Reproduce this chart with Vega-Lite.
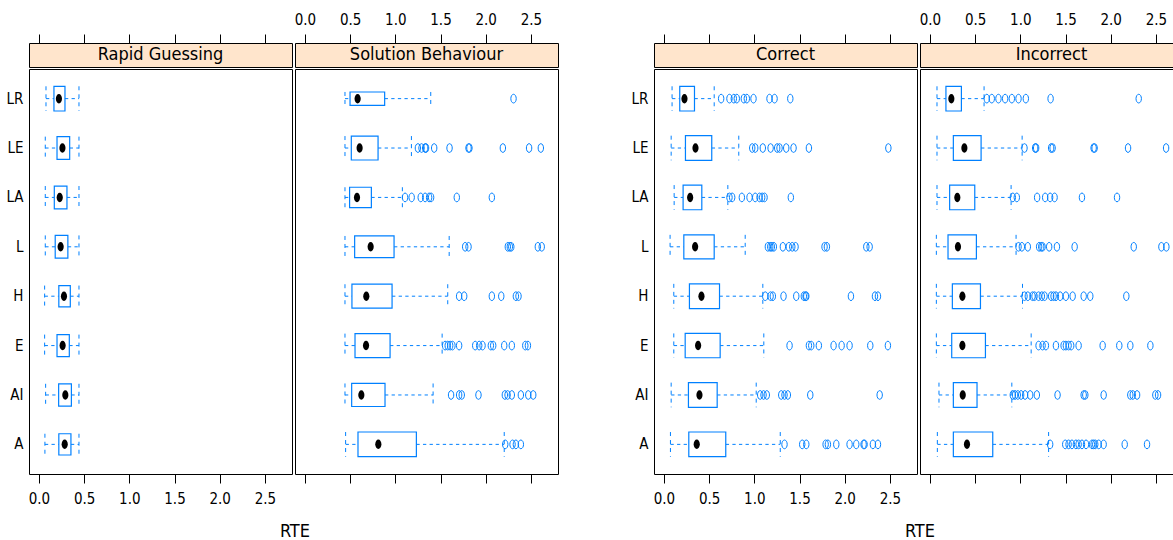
{
"$schema": "https://vega.github.io/schema/vega-lite/v6.json",
"background": "white",
"padding": {"left": 5, "top": 11, "right": 0, "bottom": 0},
"config": {"font": "'Liberation Sans Narrow', 'DejaVu Sans Condensed', 'Liberation Sans', sans-serif", "view": {"stroke": "black", "strokeWidth": 1}, "axis": {"grid": false, "domain": false}, "title": {"fontWeight": "normal", "color": "black"}},
"datasets": {
"boxes": [
{"panel":"RG","item":"LR","lo":0.078,"q1":0.166,"med":0.221,"q3":0.288,"hi":0.443,"n":100},
{"panel":"RG","item":"LE","lo":0.07,"q1":0.2,"med":0.26,"q3":0.34,"hi":0.443,"n":85},
{"panel":"RG","item":"LA","lo":0.07,"q1":0.17,"med":0.23,"q3":0.31,"hi":0.443,"n":85},
{"panel":"RG","item":"L","lo":0.07,"q1":0.18,"med":0.24,"q3":0.32,"hi":0.443,"n":85},
{"panel":"RG","item":"H","lo":0.063,"q1":0.22,"med":0.277,"q3":0.347,"hi":0.443,"n":74},
{"panel":"RG","item":"E","lo":0.063,"q1":0.2,"med":0.262,"q3":0.336,"hi":0.443,"n":79},
{"panel":"RG","item":"AI","lo":0.074,"q1":0.218,"med":0.292,"q3":0.359,"hi":0.443,"n":82},
{"panel":"RG","item":"A","lo":0.066,"q1":0.22,"med":0.285,"q3":0.354,"hi":0.443,"n":74},
{"panel":"SB","item":"LR","lo":0.443,"q1":0.499,"med":0.583,"q3":0.882,"hi":1.392,"n":29},
{"panel":"SB","item":"LE","lo":0.443,"q1":0.513,"med":0.605,"q3":0.809,"hi":1.178,"n":94},
{"panel":"SB","item":"LA","lo":0.443,"q1":0.494,"med":0.576,"q3":0.735,"hi":1.078,"n":68},
{"panel":"SB","item":"L","lo":0.443,"q1":0.55,"med":0.727,"q3":0.986,"hi":1.596,"n":77},
{"panel":"SB","item":"H","lo":0.443,"q1":0.52,"med":0.679,"q3":0.964,"hi":1.58,"n":94},
{"panel":"SB","item":"E","lo":0.443,"q1":0.554,"med":0.676,"q3":0.942,"hi":1.518,"n":94},
{"panel":"SB","item":"AI","lo":0.443,"q1":0.517,"med":0.624,"q3":0.886,"hi":1.418,"n":87},
{"panel":"SB","item":"A","lo":0.45,"q1":0.587,"med":0.812,"q3":1.233,"hi":2.205,"n":100},
{"panel":"C","item":"LR","lo":0.09,"q1":0.175,"med":0.227,"q3":0.338,"hi":0.556,"n":100},
{"panel":"C","item":"LE","lo":0.08,"q1":0.238,"med":0.349,"q3":0.529,"hi":0.828,"n":100},
{"panel":"C","item":"LA","lo":0.113,"q1":0.212,"med":0.29,"q3":0.419,"hi":0.707,"n":100},
{"panel":"C","item":"L","lo":0.068,"q1":0.22,"med":0.345,"q3":0.556,"hi":0.899,"n":94},
{"panel":"C","item":"H","lo":0.109,"q1":0.282,"med":0.415,"q3":0.615,"hi":1.094,"n":100},
{"panel":"C","item":"E","lo":0.109,"q1":0.235,"med":0.378,"q3":0.622,"hi":1.105,"n":97},
{"panel":"C","item":"AI","lo":0.08,"q1":0.271,"med":0.393,"q3":0.589,"hi":1.021,"n":100},
{"panel":"C","item":"A","lo":0.072,"q1":0.275,"med":0.363,"q3":0.684,"hi":1.287,"n":100},
{"panel":"I","item":"LR","lo":0.078,"q1":0.177,"med":0.237,"q3":0.348,"hi":0.599,"n":100},
{"panel":"I","item":"LE","lo":0.078,"q1":0.259,"med":0.381,"q3":0.566,"hi":1.02,"n":100},
{"panel":"I","item":"LA","lo":0.078,"q1":0.218,"med":0.303,"q3":0.496,"hi":0.898,"n":100},
{"panel":"I","item":"L","lo":0.071,"q1":0.2,"med":0.31,"q3":0.514,"hi":0.953,"n":94},
{"panel":"I","item":"H","lo":0.071,"q1":0.248,"med":0.359,"q3":0.559,"hi":1.024,"n":100},
{"panel":"I","item":"E","lo":0.071,"q1":0.241,"med":0.359,"q3":0.614,"hi":1.12,"n":97},
{"panel":"I","item":"AI","lo":0.1,"q1":0.259,"med":0.363,"q3":0.521,"hi":0.906,"n":100},
{"panel":"I","item":"A","lo":0.082,"q1":0.259,"med":0.41,"q3":0.695,"hi":1.313,"n":100}
],
"outliers": [
{"panel":"SB","item":"LR","v":2.308},
{"panel":"SB","item":"LE","v":1.25},{"panel":"SB","item":"LE","v":1.29},{"panel":"SB","item":"LE","v":1.33},{"panel":"SB","item":"LE","v":1.34},{"panel":"SB","item":"LE","v":1.43},{"panel":"SB","item":"LE","v":1.6},{"panel":"SB","item":"LE","v":1.81},{"panel":"SB","item":"LE","v":1.82},{"panel":"SB","item":"LE","v":2.19},{"panel":"SB","item":"LE","v":2.48},{"panel":"SB","item":"LE","v":2.61},
{"panel":"SB","item":"LA","v":1.108},{"panel":"SB","item":"LA","v":1.181},{"panel":"SB","item":"LA","v":1.281},{"panel":"SB","item":"LA","v":1.33},{"panel":"SB","item":"LA","v":1.374},{"panel":"SB","item":"LA","v":1.396},{"panel":"SB","item":"LA","v":1.68},{"panel":"SB","item":"LA","v":2.068},
{"panel":"SB","item":"L","v":1.773},{"panel":"SB","item":"L","v":1.81},{"panel":"SB","item":"L","v":2.245},{"panel":"SB","item":"L","v":2.267},{"panel":"SB","item":"L","v":2.283},{"panel":"SB","item":"L","v":2.577},{"panel":"SB","item":"L","v":2.62},
{"panel":"SB","item":"H","v":1.706},{"panel":"SB","item":"H","v":1.762},{"panel":"SB","item":"H","v":2.068},{"panel":"SB","item":"H","v":2.172},{"panel":"SB","item":"H","v":2.334},{"panel":"SB","item":"H","v":2.363},
{"panel":"SB","item":"E","v":1.551},{"panel":"SB","item":"E","v":1.58},{"panel":"SB","item":"E","v":1.607},{"panel":"SB","item":"E","v":1.632},{"panel":"SB","item":"E","v":1.706},{"panel":"SB","item":"E","v":1.884},{"panel":"SB","item":"E","v":1.928},{"panel":"SB","item":"E","v":1.965},{"panel":"SB","item":"E","v":2.057},{"panel":"SB","item":"E","v":2.083},{"panel":"SB","item":"E","v":2.205},{"panel":"SB","item":"E","v":2.289},{"panel":"SB","item":"E","v":2.438},{"panel":"SB","item":"E","v":2.467},
{"panel":"SB","item":"AI","v":1.617},{"panel":"SB","item":"AI","v":1.706},{"panel":"SB","item":"AI","v":1.735},{"panel":"SB","item":"AI","v":1.92},{"panel":"SB","item":"AI","v":2.212},{"panel":"SB","item":"AI","v":2.242},{"panel":"SB","item":"AI","v":2.289},{"panel":"SB","item":"AI","v":2.389},{"panel":"SB","item":"AI","v":2.471},{"panel":"SB","item":"AI","v":2.526},
{"panel":"SB","item":"A","v":2.216},{"panel":"SB","item":"A","v":2.297},{"panel":"SB","item":"A","v":2.334},{"panel":"SB","item":"A","v":2.389},
{"panel":"C","item":"LR","v":0.633},{"panel":"C","item":"LR","v":0.725},{"panel":"C","item":"LR","v":0.773},{"panel":"C","item":"LR","v":0.806},{"panel":"C","item":"LR","v":0.884},{"panel":"C","item":"LR","v":0.917},{"panel":"C","item":"LR","v":0.991},{"panel":"C","item":"LR","v":1.168},{"panel":"C","item":"LR","v":1.224},{"panel":"C","item":"LR","v":1.398},
{"panel":"C","item":"LE","v":0.977},{"panel":"C","item":"LE","v":1.01},{"panel":"C","item":"LE","v":1.094},{"panel":"C","item":"LE","v":1.18},{"panel":"C","item":"LE","v":1.253},{"panel":"C","item":"LE","v":1.279},{"panel":"C","item":"LE","v":1.353},{"panel":"C","item":"LE","v":1.434},{"panel":"C","item":"LE","v":1.604},{"panel":"C","item":"LE","v":2.483},
{"panel":"C","item":"LA","v":0.725},{"panel":"C","item":"LA","v":0.755},{"panel":"C","item":"LA","v":0.862},{"panel":"C","item":"LA","v":0.947},{"panel":"C","item":"LA","v":1.01},{"panel":"C","item":"LA","v":1.058},{"panel":"C","item":"LA","v":1.087},{"panel":"C","item":"LA","v":1.113},{"panel":"C","item":"LA","v":1.404},
{"panel":"C","item":"L","v":1.15},{"panel":"C","item":"L","v":1.176},{"panel":"C","item":"L","v":1.194},{"panel":"C","item":"L","v":1.216},{"panel":"C","item":"L","v":1.316},{"panel":"C","item":"L","v":1.382},{"panel":"C","item":"L","v":1.42},{"panel":"C","item":"L","v":1.456},{"panel":"C","item":"L","v":1.777},{"panel":"C","item":"L","v":1.803},{"panel":"C","item":"L","v":2.239},{"panel":"C","item":"L","v":2.276},
{"panel":"C","item":"H","v":1.121},{"panel":"C","item":"H","v":1.18},{"panel":"C","item":"H","v":1.205},{"panel":"C","item":"H","v":1.323},{"panel":"C","item":"H","v":1.464},{"panel":"C","item":"H","v":1.548},{"panel":"C","item":"H","v":1.567},{"panel":"C","item":"H","v":1.575},{"panel":"C","item":"H","v":2.069},{"panel":"C","item":"H","v":2.335},{"panel":"C","item":"H","v":2.368},
{"panel":"C","item":"E","v":1.39},{"panel":"C","item":"E","v":1.604},{"panel":"C","item":"E","v":1.63},{"panel":"C","item":"E","v":1.714},{"panel":"C","item":"E","v":1.877},{"panel":"C","item":"E","v":1.966},{"panel":"C","item":"E","v":2.054},{"panel":"C","item":"E","v":2.283},{"panel":"C","item":"E","v":2.478},
{"panel":"C","item":"AI","v":1.065},{"panel":"C","item":"AI","v":1.102},{"panel":"C","item":"AI","v":1.138},{"panel":"C","item":"AI","v":1.298},{"panel":"C","item":"AI","v":1.334},{"panel":"C","item":"AI","v":1.371},{"panel":"C","item":"AI","v":1.619},{"panel":"C","item":"AI","v":2.387},
{"panel":"C","item":"A","v":1.334},{"panel":"C","item":"A","v":1.53},{"panel":"C","item":"A","v":1.575},{"panel":"C","item":"A","v":1.789},{"panel":"C","item":"A","v":1.814},{"panel":"C","item":"A","v":1.907},{"panel":"C","item":"A","v":2.054},{"panel":"C","item":"A","v":2.128},{"panel":"C","item":"A","v":2.209},{"panel":"C","item":"A","v":2.22},{"panel":"C","item":"A","v":2.312},{"panel":"C","item":"A","v":2.368},
{"panel":"I","item":"LR","v":0.629},{"panel":"I","item":"LR","v":0.684},{"panel":"I","item":"LR","v":0.758},{"panel":"I","item":"LR","v":0.832},{"panel":"I","item":"LR","v":0.906},{"panel":"I","item":"LR","v":0.98},{"panel":"I","item":"LR","v":1.061},{"panel":"I","item":"LR","v":1.335},{"panel":"I","item":"LR","v":2.31},
{"panel":"I","item":"LE","v":1.046},{"panel":"I","item":"LE","v":1.164},{"panel":"I","item":"LE","v":1.175},{"panel":"I","item":"LE","v":1.341},{"panel":"I","item":"LE","v":1.357},{"panel":"I","item":"LE","v":1.811},{"panel":"I","item":"LE","v":1.822},{"panel":"I","item":"LE","v":2.192},{"panel":"I","item":"LE","v":2.613},
{"panel":"I","item":"LA","v":0.917},{"panel":"I","item":"LA","v":0.961},{"panel":"I","item":"LA","v":1.186},{"panel":"I","item":"LA","v":1.275},{"panel":"I","item":"LA","v":1.33},{"panel":"I","item":"LA","v":1.379},{"panel":"I","item":"LA","v":1.682},{"panel":"I","item":"LA","v":2.07},
{"panel":"I","item":"L","v":0.98},{"panel":"I","item":"L","v":1.017},{"panel":"I","item":"L","v":1.083},{"panel":"I","item":"L","v":1.208},{"panel":"I","item":"L","v":1.231},{"panel":"I","item":"L","v":1.246},{"panel":"I","item":"L","v":1.319},{"panel":"I","item":"L","v":1.405},{"panel":"I","item":"L","v":1.601},{"panel":"I","item":"L","v":2.255},{"panel":"I","item":"L","v":2.561},{"panel":"I","item":"L","v":2.616},
{"panel":"I","item":"H","v":1.046},{"panel":"I","item":"H","v":1.083},{"panel":"I","item":"H","v":1.135},{"panel":"I","item":"H","v":1.157},{"panel":"I","item":"H","v":1.202},{"panel":"I","item":"H","v":1.238},{"panel":"I","item":"H","v":1.268},{"panel":"I","item":"H","v":1.341},{"panel":"I","item":"H","v":1.368},{"panel":"I","item":"H","v":1.394},{"panel":"I","item":"H","v":1.441},{"panel":"I","item":"H","v":1.504},{"panel":"I","item":"H","v":1.579},{"panel":"I","item":"H","v":1.701},{"panel":"I","item":"H","v":1.774},{"panel":"I","item":"H","v":2.173},
{"panel":"I","item":"E","v":1.202},{"panel":"I","item":"E","v":1.246},{"panel":"I","item":"E","v":1.283},{"panel":"I","item":"E","v":1.394},{"panel":"I","item":"E","v":1.479},{"panel":"I","item":"E","v":1.504},{"panel":"I","item":"E","v":1.534},{"panel":"I","item":"E","v":1.563},{"panel":"I","item":"E","v":1.645},{"panel":"I","item":"E","v":1.911},{"panel":"I","item":"E","v":2.095},{"panel":"I","item":"E","v":2.217},{"panel":"I","item":"E","v":2.439},
{"panel":"I","item":"AI","v":0.917},{"panel":"I","item":"AI","v":0.942},{"panel":"I","item":"AI","v":0.972},{"panel":"I","item":"AI","v":1.009},{"panel":"I","item":"AI","v":1.053},{"panel":"I","item":"AI","v":1.109},{"panel":"I","item":"AI","v":1.183},{"panel":"I","item":"AI","v":1.412},{"panel":"I","item":"AI","v":1.701},{"panel":"I","item":"AI","v":1.719},{"panel":"I","item":"AI","v":1.922},{"panel":"I","item":"AI","v":2.217},{"panel":"I","item":"AI","v":2.244},{"panel":"I","item":"AI","v":2.292},{"panel":"I","item":"AI","v":2.494},{"panel":"I","item":"AI","v":2.524},
{"panel":"I","item":"A","v":1.33},{"panel":"I","item":"A","v":1.497},{"panel":"I","item":"A","v":1.534},{"panel":"I","item":"A","v":1.571},{"panel":"I","item":"A","v":1.615},{"panel":"I","item":"A","v":1.645},{"panel":"I","item":"A","v":1.682},{"panel":"I","item":"A","v":1.727},{"panel":"I","item":"A","v":1.793},{"panel":"I","item":"A","v":1.811},{"panel":"I","item":"A","v":1.829},{"panel":"I","item":"A","v":1.867},{"panel":"I","item":"A","v":1.922},{"panel":"I","item":"A","v":2.155},{"panel":"I","item":"A","v":2.402}
]
},
"spacing": 71,
"hconcat": [
{
"title": {"text": "RTE", "orient": "bottom", "anchor": "middle", "fontSize": 18, "offset": 16, "dx": 13},
"spacing": 0,
"hconcat": [
{"spacing": 0, "vconcat": [
{"width": 263, "height": 24, "view": {"fill": "#ffe5cc", "stroke": "black"},
 "data": {"values": [{"label": "Rapid Guessing"}]},
 "mark": {"type": "text", "fontSize": 18, "color": "black"},
 "encoding": {"x": {"datum": 1.345, "type": "quantitative", "scale": {"domain": [-0.11, 2.8], "nice": false, "zero": false}, "axis": {"orient": "top", "values": [0,0.5,1,1.5,2,2.5], "format": ".1f", "title": null, "tickSize": 9, "tickColor": "black", "labelPadding": 7, "labelFontSize": 15, "labelColor": "white"}}, "text": {"field": "label", "type": "nominal"}}},
{"width": 263, "height": 405,
 "encoding": {"y": {"field": "item", "type": "nominal", "scale": {"domain": ["LR","LE","LA","L","H","E","AI","A"], "type": "band", "paddingInner": 0, "paddingOuter": 0.1}, "axis": {"title": null, "ticks": false, "tickSize": 0, "labelPadding": 6, "labelFontSize": 15, "labelColor": "black"}}},
 "resolve": {"scale": {"size": "independent"}},
 "layer": [
  {"data": {"name": "boxes"}, "transform": [{"filter": "datum.panel === 'RG'"}], "mark": {"type": "rule", "color": "#0080ff", "strokeDash": [3.3, 3.3]}, "encoding": {"x": {"field": "lo", "type": "quantitative", "scale": {"domain": [-0.11, 2.8], "nice": false, "zero": false}, "axis": {"orient": "bottom", "values": [0,0.5,1,1.5,2,2.5], "format": ".1f", "title": null, "tickSize": 9, "tickColor": "black", "labelPadding": 8, "labelFontSize": 15, "labelColor": "black"}}, "x2": {"field": "q1"}}},
  {"data": {"name": "boxes"}, "transform": [{"filter": "datum.panel === 'RG'"}], "mark": {"type": "rule", "color": "#0080ff", "strokeDash": [3.3, 3.3]}, "encoding": {"x": {"field": "q3", "type": "quantitative"}, "x2": {"field": "hi"}}},
  {"data": {"name": "boxes"}, "transform": [{"filter": "datum.panel === 'RG'"}], "mark": {"type": "point", "shape": "M0,-1L0,1", "filled": false, "color": "#0080ff", "opacity": 1, "strokeWidth": 1, "strokeDash": [4, 4]}, "encoding": {"x": {"field": "lo", "type": "quantitative"}, "size": {"field": "n", "type": "quantitative", "scale": {"type": "linear", "domain": [0, 100], "range": [0, 610]}, "legend": null}}},
  {"data": {"name": "boxes"}, "transform": [{"filter": "datum.panel === 'RG'"}], "mark": {"type": "point", "shape": "M0,-1L0,1", "filled": false, "color": "#0080ff", "opacity": 1, "strokeWidth": 1, "strokeDash": [4, 4]}, "encoding": {"x": {"field": "hi", "type": "quantitative"}, "size": {"field": "n", "type": "quantitative", "scale": {"type": "linear", "domain": [0, 100], "range": [0, 610]}, "legend": null}}},
  {"data": {"name": "boxes"}, "transform": [{"filter": "datum.panel === 'RG'"}], "mark": {"type": "bar", "fill": "white", "stroke": "#0080ff", "strokeWidth": 1.2}, "encoding": {"x": {"field": "q1", "type": "quantitative"}, "x2": {"field": "q3"}, "size": {"field": "n", "type": "quantitative", "scale": {"type": "sqrt", "domain": [0, 100], "range": [0, 24.7]}, "legend": null}}},
  {"data": {"name": "boxes"}, "transform": [{"filter": "datum.panel === 'RG'"}], "mark": {"type": "point", "shape": "M0,-1A0.65,1,0,1,1,0,1A0.65,1,0,1,1,0,-1Z", "filled": true, "color": "black", "opacity": 1, "size": 90}, "encoding": {"x": {"field": "med", "type": "quantitative"}}}
 ]}
]},
{"spacing": 0, "vconcat": [
{"width": 263, "height": 24, "view": {"fill": "#ffe5cc", "stroke": "black"},
 "data": {"values": [{"label": "Solution Behaviour"}]},
 "mark": {"type": "text", "fontSize": 18, "color": "black"},
 "encoding": {"x": {"datum": 1.345, "type": "quantitative", "scale": {"domain": [-0.11, 2.8], "nice": false, "zero": false}, "axis": {"orient": "top", "values": [0,0.5,1,1.5,2,2.5], "format": ".1f", "title": null, "tickSize": 9, "tickColor": "black", "labelPadding": 7, "labelFontSize": 15, "labelColor": "black"}}, "text": {"field": "label", "type": "nominal"}}},
{"width": 263, "height": 405,
 "encoding": {"y": {"field": "item", "type": "nominal", "scale": {"domain": ["LR","LE","LA","L","H","E","AI","A"], "type": "band", "paddingInner": 0, "paddingOuter": 0.1}, "axis": null}},
 "resolve": {"scale": {"size": "independent"}},
 "layer": [
  {"data": {"name": "boxes"}, "transform": [{"filter": "datum.panel === 'SB'"}], "mark": {"type": "rule", "color": "#0080ff", "strokeDash": [3.3, 3.3]}, "encoding": {"x": {"field": "lo", "type": "quantitative", "scale": {"domain": [-0.11, 2.8], "nice": false, "zero": false}, "axis": {"orient": "bottom", "values": [0,0.5,1,1.5,2,2.5], "format": ".1f", "title": null, "tickSize": 9, "tickColor": "black", "labelPadding": 8, "labelFontSize": 15, "labelColor": "white"}}, "x2": {"field": "q1"}}},
  {"data": {"name": "boxes"}, "transform": [{"filter": "datum.panel === 'SB'"}], "mark": {"type": "rule", "color": "#0080ff", "strokeDash": [3.3, 3.3]}, "encoding": {"x": {"field": "q3", "type": "quantitative"}, "x2": {"field": "hi"}}},
  {"data": {"name": "boxes"}, "transform": [{"filter": "datum.panel === 'SB'"}], "mark": {"type": "point", "shape": "M0,-1L0,1", "filled": false, "color": "#0080ff", "opacity": 1, "strokeWidth": 1, "strokeDash": [4, 4]}, "encoding": {"x": {"field": "lo", "type": "quantitative"}, "size": {"field": "n", "type": "quantitative", "scale": {"type": "linear", "domain": [0, 100], "range": [0, 610]}, "legend": null}}},
  {"data": {"name": "boxes"}, "transform": [{"filter": "datum.panel === 'SB'"}], "mark": {"type": "point", "shape": "M0,-1L0,1", "filled": false, "color": "#0080ff", "opacity": 1, "strokeWidth": 1, "strokeDash": [4, 4]}, "encoding": {"x": {"field": "hi", "type": "quantitative"}, "size": {"field": "n", "type": "quantitative", "scale": {"type": "linear", "domain": [0, 100], "range": [0, 610]}, "legend": null}}},
  {"data": {"name": "boxes"}, "transform": [{"filter": "datum.panel === 'SB'"}], "mark": {"type": "bar", "fill": "white", "stroke": "#0080ff", "strokeWidth": 1.2}, "encoding": {"x": {"field": "q1", "type": "quantitative"}, "x2": {"field": "q3"}, "size": {"field": "n", "type": "quantitative", "scale": {"type": "sqrt", "domain": [0, 100], "range": [0, 24.7]}, "legend": null}}},
  {"data": {"name": "outliers"}, "transform": [{"filter": "datum.panel === 'SB'"}], "mark": {"type": "point", "shape": "M0,-1A0.62,1,0,1,1,0,1A0.62,1,0,1,1,0,-1Z", "filled": false, "color": "#0080ff", "opacity": 1, "strokeWidth": 1, "size": 76}, "encoding": {"x": {"field": "v", "type": "quantitative"}}},
  {"data": {"name": "boxes"}, "transform": [{"filter": "datum.panel === 'SB'"}], "mark": {"type": "point", "shape": "M0,-1A0.65,1,0,1,1,0,1A0.65,1,0,1,1,0,-1Z", "filled": true, "color": "black", "opacity": 1, "size": 90}, "encoding": {"x": {"field": "med", "type": "quantitative"}}}
 ]}
]}
]
},
{
"title": {"text": "RTE", "orient": "bottom", "anchor": "middle", "fontSize": 18, "offset": 16, "dx": 13},
"spacing": 0,
"hconcat": [
{"spacing": 0, "vconcat": [
{"width": 263, "height": 24, "view": {"fill": "#ffe5cc", "stroke": "black"},
 "data": {"values": [{"label": "Correct"}]},
 "mark": {"type": "text", "fontSize": 18, "color": "black"},
 "encoding": {"x": {"datum": 1.345, "type": "quantitative", "scale": {"domain": [-0.11, 2.8], "nice": false, "zero": false}, "axis": {"orient": "top", "values": [0,0.5,1,1.5,2,2.5], "format": ".1f", "title": null, "tickSize": 9, "tickColor": "black", "labelPadding": 7, "labelFontSize": 15, "labelColor": "white"}}, "text": {"field": "label", "type": "nominal"}}},
{"width": 263, "height": 405,
 "encoding": {"y": {"field": "item", "type": "nominal", "scale": {"domain": ["LR","LE","LA","L","H","E","AI","A"], "type": "band", "paddingInner": 0, "paddingOuter": 0.1}, "axis": {"title": null, "ticks": false, "tickSize": 0, "labelPadding": 6, "labelFontSize": 15, "labelColor": "black"}}},
 "resolve": {"scale": {"size": "independent"}},
 "layer": [
  {"data": {"name": "boxes"}, "transform": [{"filter": "datum.panel === 'C'"}], "mark": {"type": "rule", "color": "#0080ff", "strokeDash": [3.3, 3.3]}, "encoding": {"x": {"field": "lo", "type": "quantitative", "scale": {"domain": [-0.11, 2.8], "nice": false, "zero": false}, "axis": {"orient": "bottom", "values": [0,0.5,1,1.5,2,2.5], "format": ".1f", "title": null, "tickSize": 9, "tickColor": "black", "labelPadding": 8, "labelFontSize": 15, "labelColor": "black"}}, "x2": {"field": "q1"}}},
  {"data": {"name": "boxes"}, "transform": [{"filter": "datum.panel === 'C'"}], "mark": {"type": "rule", "color": "#0080ff", "strokeDash": [3.3, 3.3]}, "encoding": {"x": {"field": "q3", "type": "quantitative"}, "x2": {"field": "hi"}}},
  {"data": {"name": "boxes"}, "transform": [{"filter": "datum.panel === 'C'"}], "mark": {"type": "point", "shape": "M0,-1L0,1", "filled": false, "color": "#0080ff", "opacity": 1, "strokeWidth": 1, "strokeDash": [4, 4]}, "encoding": {"x": {"field": "lo", "type": "quantitative"}, "size": {"field": "n", "type": "quantitative", "scale": {"type": "linear", "domain": [0, 100], "range": [0, 610]}, "legend": null}}},
  {"data": {"name": "boxes"}, "transform": [{"filter": "datum.panel === 'C'"}], "mark": {"type": "point", "shape": "M0,-1L0,1", "filled": false, "color": "#0080ff", "opacity": 1, "strokeWidth": 1, "strokeDash": [4, 4]}, "encoding": {"x": {"field": "hi", "type": "quantitative"}, "size": {"field": "n", "type": "quantitative", "scale": {"type": "linear", "domain": [0, 100], "range": [0, 610]}, "legend": null}}},
  {"data": {"name": "boxes"}, "transform": [{"filter": "datum.panel === 'C'"}], "mark": {"type": "bar", "fill": "white", "stroke": "#0080ff", "strokeWidth": 1.2}, "encoding": {"x": {"field": "q1", "type": "quantitative"}, "x2": {"field": "q3"}, "size": {"field": "n", "type": "quantitative", "scale": {"type": "sqrt", "domain": [0, 100], "range": [0, 24.7]}, "legend": null}}},
  {"data": {"name": "outliers"}, "transform": [{"filter": "datum.panel === 'C'"}], "mark": {"type": "point", "shape": "M0,-1A0.62,1,0,1,1,0,1A0.62,1,0,1,1,0,-1Z", "filled": false, "color": "#0080ff", "opacity": 1, "strokeWidth": 1, "size": 76}, "encoding": {"x": {"field": "v", "type": "quantitative"}}},
  {"data": {"name": "boxes"}, "transform": [{"filter": "datum.panel === 'C'"}], "mark": {"type": "point", "shape": "M0,-1A0.65,1,0,1,1,0,1A0.65,1,0,1,1,0,-1Z", "filled": true, "color": "black", "opacity": 1, "size": 90}, "encoding": {"x": {"field": "med", "type": "quantitative"}}}
 ]}
]},
{"spacing": 0, "vconcat": [
{"width": 263, "height": 24, "view": {"fill": "#ffe5cc", "stroke": "black"},
 "data": {"values": [{"label": "Incorrect"}]},
 "mark": {"type": "text", "fontSize": 18, "color": "black"},
 "encoding": {"x": {"datum": 1.345, "type": "quantitative", "scale": {"domain": [-0.11, 2.8], "nice": false, "zero": false}, "axis": {"orient": "top", "values": [0,0.5,1,1.5,2,2.5], "format": ".1f", "title": null, "tickSize": 9, "tickColor": "black", "labelPadding": 7, "labelFontSize": 15, "labelColor": "black"}}, "text": {"field": "label", "type": "nominal"}}},
{"width": 263, "height": 405,
 "encoding": {"y": {"field": "item", "type": "nominal", "scale": {"domain": ["LR","LE","LA","L","H","E","AI","A"], "type": "band", "paddingInner": 0, "paddingOuter": 0.1}, "axis": null}},
 "resolve": {"scale": {"size": "independent"}},
 "layer": [
  {"data": {"name": "boxes"}, "transform": [{"filter": "datum.panel === 'I'"}], "mark": {"type": "rule", "color": "#0080ff", "strokeDash": [3.3, 3.3]}, "encoding": {"x": {"field": "lo", "type": "quantitative", "scale": {"domain": [-0.11, 2.8], "nice": false, "zero": false}, "axis": {"orient": "bottom", "values": [0,0.5,1,1.5,2,2.5], "format": ".1f", "title": null, "tickSize": 9, "tickColor": "black", "labelPadding": 8, "labelFontSize": 15, "labelColor": "white"}}, "x2": {"field": "q1"}}},
  {"data": {"name": "boxes"}, "transform": [{"filter": "datum.panel === 'I'"}], "mark": {"type": "rule", "color": "#0080ff", "strokeDash": [3.3, 3.3]}, "encoding": {"x": {"field": "q3", "type": "quantitative"}, "x2": {"field": "hi"}}},
  {"data": {"name": "boxes"}, "transform": [{"filter": "datum.panel === 'I'"}], "mark": {"type": "point", "shape": "M0,-1L0,1", "filled": false, "color": "#0080ff", "opacity": 1, "strokeWidth": 1, "strokeDash": [4, 4]}, "encoding": {"x": {"field": "lo", "type": "quantitative"}, "size": {"field": "n", "type": "quantitative", "scale": {"type": "linear", "domain": [0, 100], "range": [0, 610]}, "legend": null}}},
  {"data": {"name": "boxes"}, "transform": [{"filter": "datum.panel === 'I'"}], "mark": {"type": "point", "shape": "M0,-1L0,1", "filled": false, "color": "#0080ff", "opacity": 1, "strokeWidth": 1, "strokeDash": [4, 4]}, "encoding": {"x": {"field": "hi", "type": "quantitative"}, "size": {"field": "n", "type": "quantitative", "scale": {"type": "linear", "domain": [0, 100], "range": [0, 610]}, "legend": null}}},
  {"data": {"name": "boxes"}, "transform": [{"filter": "datum.panel === 'I'"}], "mark": {"type": "bar", "fill": "white", "stroke": "#0080ff", "strokeWidth": 1.2}, "encoding": {"x": {"field": "q1", "type": "quantitative"}, "x2": {"field": "q3"}, "size": {"field": "n", "type": "quantitative", "scale": {"type": "sqrt", "domain": [0, 100], "range": [0, 24.7]}, "legend": null}}},
  {"data": {"name": "outliers"}, "transform": [{"filter": "datum.panel === 'I'"}], "mark": {"type": "point", "shape": "M0,-1A0.62,1,0,1,1,0,1A0.62,1,0,1,1,0,-1Z", "filled": false, "color": "#0080ff", "opacity": 1, "strokeWidth": 1, "size": 76}, "encoding": {"x": {"field": "v", "type": "quantitative"}}},
  {"data": {"name": "boxes"}, "transform": [{"filter": "datum.panel === 'I'"}], "mark": {"type": "point", "shape": "M0,-1A0.65,1,0,1,1,0,1A0.65,1,0,1,1,0,-1Z", "filled": true, "color": "black", "opacity": 1, "size": 90}, "encoding": {"x": {"field": "med", "type": "quantitative"}}}
 ]}
]}
]
}
]
}
